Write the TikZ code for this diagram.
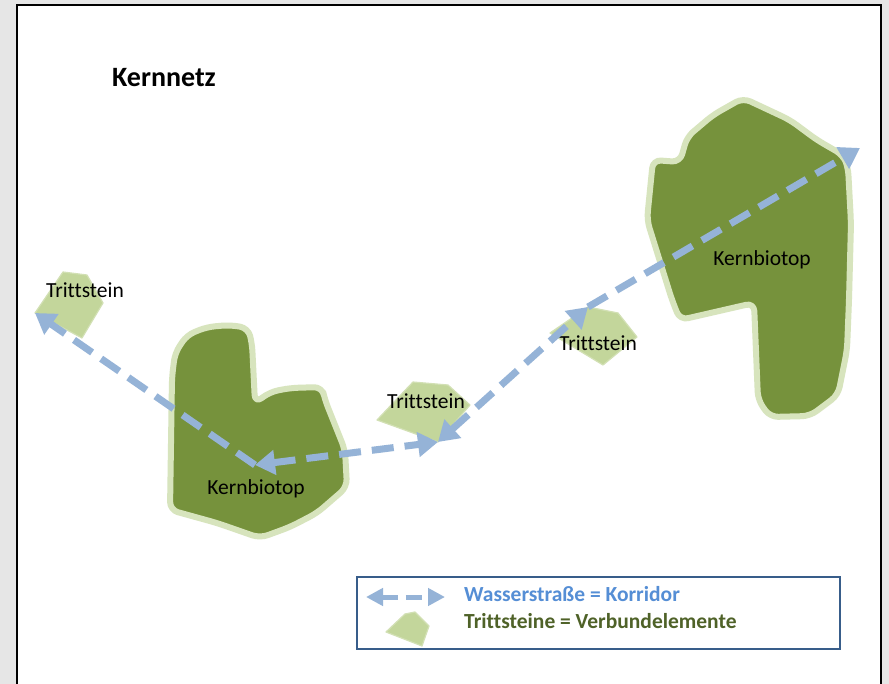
\documentclass[tikz,border=0pt]{standalone}
\usepackage{fontspec}
\setmainfont[Ligatures={NoCommon}]{Carlito}
\usetikzlibrary{arrows.meta}
\definecolor{kerngreen}{HTML}{76923C}
\definecolor{kernhalo}{HTML}{D7E4BD}
\definecolor{trittgreen}{HTML}{C3D69B}
\definecolor{wayblue}{HTML}{95B3D7}
\definecolor{legframe}{HTML}{385D8A}
\definecolor{legblue}{HTML}{558ED5}
\definecolor{legolive}{HTML}{4F6228}
\definecolor{pagegray}{HTML}{E6E6E6}
\tikzset{
    every node/.style={font=\fontsize{21.5}{24}\selectfont,inner sep=0pt},
    biotop/.style={fill=kerngreen,draw=kernhalo,line width=6pt,rounded corners=8pt,line join=round},
    tritt/.style={fill=trittgreen,draw=trittgreen!75!white,line width=1.2pt,line join=round},
    corridor/.style={draw=wayblue,line width=7pt,dash pattern=on 22pt off 11pt,
        -{Triangle[length=20pt,width=24pt]}},
    corridorboth/.style={corridor,{Triangle[length=20pt,width=24pt]}-{Triangle[length=20pt,width=24pt]}},
    legtext/.style={font=\fontsize{21.5}{24}\selectfont\bfseries,anchor=west}
}

\begin{document}
\begin{tikzpicture}[x=1pt,y=-1pt]
    \useasboundingbox (0,0) rectangle (889,684);
    \fill[pagegray] (0,0) rectangle (889,684);
    \fill[white] (17,5) rectangle (881,684);
    \draw[line width=2.5pt] (17,690) -- (17,5) -- (881,5) -- (881,690);

    \node[font=\fontsize{28}{31}\selectfont\bfseries] (kn) at (164,78) {Kernnetz};

    % core biotopes
    \draw[biotop] (172,377) -- (175,353) -- (187,335) -- (207,327) -- (230,325) -- (248,328)
        -- (252,343) -- (255,403) -- (270,392) -- (290,388) -- (322,387) -- (325,400)
        -- (345,450) -- (347,487) -- (317,513) -- (290,527) -- (260,538) -- (217,523)
        -- (170,510) -- cycle;
    \draw[biotop] (743,98) -- (790,120) -- (817,140) -- (843,155) -- (848,167) -- (851,223)
        -- (849,300) -- (847,350) -- (838,395) -- (810,416) -- (770,417) -- (758,400)
        -- (754,303) -- (680,320) -- (672,300) -- (647,220) -- (653,160) -- (680,162)
        -- (687,137) -- (713,115) -- cycle;

    % stepping stones
    \draw[tritt] (63,272) -- (87,275) -- (103,303) -- (82,338) -- (35,313) coordinate (a1) -- cycle;
    \draw[tritt] (413,382) -- (448,385) -- (470,405) -- (438,442) coordinate (b1) -- (377,420) -- cycle;
    \draw[tritt] (550,333) -- (588,307) coordinate (c1) -- (618,313) -- (637,337) -- (603,365) -- cycle;

    \coordinate (h1) at (255,465);
    \coordinate (e1) at (860,148);

    \node (kbl) at (256,489) {Kernbiotop};
    \node (kbr) at (762,260) {Kernbiotop};
    \node (tsa) at (85,290) {Trittstein};
    \node (tsb) at (426,401) {Trittstein};
    \node (tsc) at (598,343) {Trittstein};

    % corridors
    \draw[corridor] (h1) -- (a1);
    \draw[corridorboth] (h1) -- (b1);
    \draw[corridorboth] (b1) -- (c1);
    \draw[corridor] (c1) -- (e1);

    % legend
    \draw[legframe,line width=2.5pt] (357,577) rectangle (840,649);
    \coordinate (l1) at (366,597);
    \coordinate (l2) at (445,597);
    \draw[draw=wayblue,line width=5pt,dash pattern=on 16pt off 8pt,
        {Triangle[length=17pt,width=17pt]}-{Triangle[length=17pt,width=17pt]}] (l1) -- (l2);
    \draw[tritt] (386,632) -- (405,614) -- (415,612) -- (429,626) -- (422,646) -- cycle;
    \node[legtext,text=legblue] (lw) at (464,594) {Wasserstraße = Korridor};
    \node[legtext,text=legolive] (lt) at (464,621) {Trittsteine = Verbundelemente};
\end{tikzpicture}
\end{document}
